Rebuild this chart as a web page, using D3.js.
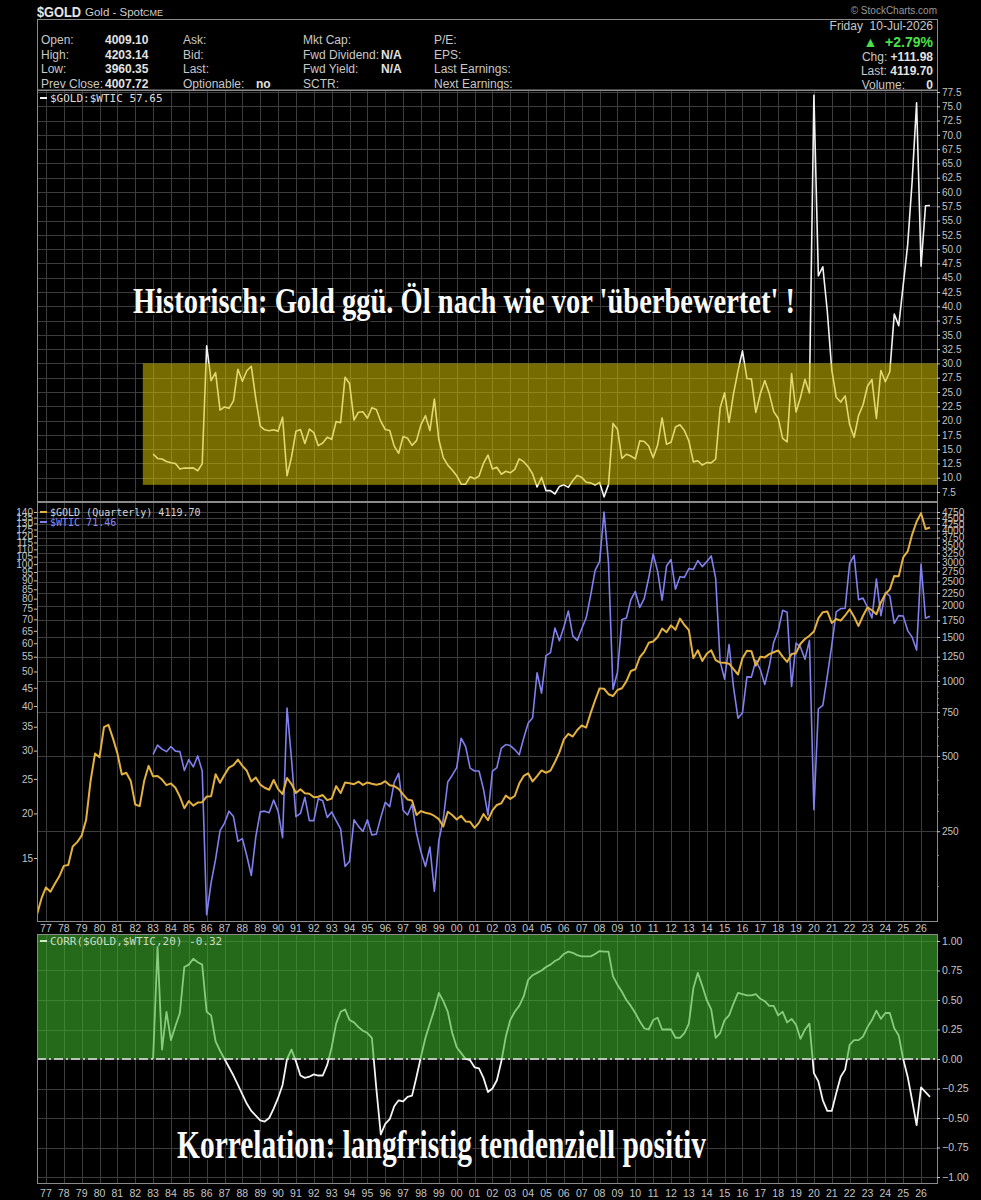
<!DOCTYPE html>
<html><head><meta charset="utf-8">
<script src="https://cdn.jsdelivr.net/npm/d3@7"></script>
<style>body{margin:0;background:#000;}svg{display:block}</style>
</head><body>
<script>
// ---------- DATA (quarterly closes, first quarter = Q3 1976) ----------
const yearLabels = ["77","78","79","80","81","82","83","84","85","86","87","88","89","90","91","92","93","94","95","96","97","98","99","00","01","02","03","04","05","06","07","08","09","10","11","12","13","14","15","16","17","18","19","20","21","22","23","24","25","26"];
const gold = [
116.0,134.5,
148.9,143.0,154.1,164.9, 181.6,183.1,217.1,226.0, 240.1,277.5,397.3,512.0, 494.5,653.0,666.8,589.8,
513.8,422.0,428.8,397.5, 320.0,315.0,397.0,456.9, 414.8,416.0,402.5,382.4, 388.5,373.5,343.8,309.0,
330.3,316.5,325.5,326.8, 344.2,345.5,423.0,390.9, 421.0,449.4,459.5,484.1, 456.9,436.6,395.3,410.2,
384.4,373.2,366.5,401.0, 368.5,352.2,408.4,386.2, 355.7,368.4,354.9,353.2, 341.7,343.4,349.0,333.0,
337.8,378.9,355.5,391.8, 389.2,385.8,394.9,383.3, 392.0,387.1,384.0,387.0, 396.4,382.0,379.0,369.3,
351.1,334.6,332.1,290.2, 301.0,296.3,293.9,287.8, 279.5,261.0,299.0,290.3, 278.7,288.2,273.7,272.7,
258.0,270.6,293.1,276.5, 302.8,318.5,323.7,347.2, 336.8,346.0,388.0,416.3, 426.5,395.8,415.7,438.0,
428.7,437.1,473.3,517.0, 583.0,613.5,598.8,635.7, 663.0,650.5,743.0,836.5, 933.5,930.3,884.5,869.8,
919.5,934.5,995.8,1096.0, 1113.3,1244.0,1307.0,1421.0, 1439.0,1500.0,1620.0,1565.8, 1669.0,1604.0,1776.0,1675.0,
1597.0,1234.0,1327.0,1202.0, 1284.0,1327.0,1211.0,1184.0, 1183.0,1172.0,1115.0,1061.0, 1233.0,1321.0,1316.0,1151.0,
1249.0,1242.0,1280.0,1303.0, 1325.0,1252.0,1192.0,1282.0, 1292.0,1409.0,1472.0,1517.0, 1577.0,1781.0,1886.0,1898.0,
1708.0,1770.0,1743.0,1829.0, 1937.0,1807.0,1660.0,1824.0, 1969.0,1919.0,1849.0,2063.0, 2230.0,2327.0,2634.0,2625.0,
3124.0,3303.0,3858.0,4340.0, 4700.0,4060.0,4119.7
];
const wticStart = 26; // Q1 1983
const wtic = [
29.3,31.1,30.3,29.8, 30.8,29.9,29.8,26.4, 28.3,27.0,29.0,26.3, 10.4,12.8,14.9,17.9,
18.8,20.3,19.6,16.7, 17.0,15.2,13.4,17.2, 20.2,20.3,20.1,21.8, 20.3,17.1,39.5,28.4,
19.6,20.0,22.2,19.1, 19.1,22.0,21.7,19.5, 20.2,19.1,18.1,14.2, 14.7,19.2,18.4,17.8,
19.2,17.4,17.5,19.5, 21.5,20.9,24.4,25.9, 20.4,19.8,21.2,17.6, 15.6,14.2,16.1,12.1,
16.8,19.3,24.5,25.6, 26.9,32.5,30.8,26.8, 26.3,26.3,23.4,19.8, 26.3,26.9,30.5,31.2,
31.0,30.2,29.2,32.5, 35.8,37.1,49.6,43.5, 55.4,56.5,66.2,61.0, 66.6,73.9,62.9,61.1,
65.9,70.7,81.7,96.0, 101.6,140.0,100.6,44.6, 49.7,69.9,70.6,79.4, 83.8,75.6,80.0,91.4,
106.7,95.4,79.2,98.8, 103.0,85.0,92.2,91.8, 97.2,96.6,102.3,98.4, 101.6,105.4,91.2,53.3,
47.6,59.5,45.1,37.0, 38.3,48.3,48.2,53.7, 50.6,46.0,51.7,60.4, 64.9,74.2,73.3,45.4,
60.1,58.5,54.1,61.1, 20.5,39.3,40.2,48.5, 59.2,73.5,75.0,75.2, 100.3,105.8,79.5,80.3,
75.7,70.6,90.8,71.7, 83.2,81.5,68.2,71.7, 71.5,65.1,62.4,57.4, 100.0,70.5,71.46
];
const corr = [
0.00,0.95,0.08,0.40,0.16,0.28,0.39,0.78,0.80,0.85,0.82,0.80,0.40,0.37,0.15,0.07,
0.00,-0.07,-0.14,-0.22,-0.30,-0.38,-0.44,-0.48,-0.52,-0.53,-0.50,-0.42,-0.33,-0.22,0.00,0.08,
-0.02,-0.14,-0.16,-0.15,-0.13,-0.14,-0.14,-0.05,0.10,0.30,0.40,0.42,0.33,0.31,0.27,0.24,
0.22,0.18,-0.25,-0.64,-0.55,-0.51,-0.40,-0.35,-0.36,-0.32,-0.31,-0.15,0.02,0.18,0.30,0.42,
0.56,0.49,0.40,0.22,0.10,0.05,0.00,-0.01,-0.07,-0.08,-0.16,-0.28,-0.25,-0.18,-0.02,0.19,
0.33,0.40,0.45,0.53,0.67,0.71,0.73,0.75,0.78,0.80,0.83,0.85,0.89,0.91,0.90,0.88,
0.87,0.87,0.87,0.89,0.915,0.91,0.91,0.70,0.63,0.57,0.50,0.45,0.39,0.32,0.26,0.25,
0.33,0.35,0.25,0.25,0.25,0.18,0.18,0.22,0.30,0.60,0.73,0.62,0.50,0.42,0.18,0.22,
0.33,0.37,0.47,0.56,0.55,0.54,0.54,0.55,0.51,0.49,0.45,0.45,0.37,0.40,0.31,0.34,
0.29,0.17,0.25,0.30,-0.12,-0.19,-0.35,-0.44,-0.44,-0.29,-0.15,-0.09,0.12,0.16,0.16,0.19,
0.27,0.33,0.41,0.34,0.39,0.39,0.26,0.20,0.00,-0.15,-0.35,-0.56,-0.24,-0.28,-0.32
];
const ratioTicks = [77.5,75,72.5,70,67.5,65,62.5,60,57.5,55,52.5,50,47.5,45,42.5,40,37.5,35,32.5,30,27.5,25,22.5,20,17.5,15,12.5,10,7.5];
const goldTicks = [4750,4500,4250,4000,3750,3500,3250,3000,2750,2500,2250,2000,1750,1500,1250,1000,750,500,250];
const wticTicks = [140,135,130,125,120,115,110,105,100,95,90,85,80,75,70,65,60,55,50,45,40,35,30,25,20,15];
const corrTicks = [1,0.75,0.5,0.25,0,-0.25,-0.5,-0.75,-1];
const ratioBand = [30, 8.75];
const bandStart = 23.7;

// ---------- LAYOUT ----------
const W = 981, H = 1200, X0 = 37, X1 = 937;
const P1 = {t:90, b:501}, P2 = {t:502, b:921}, P3 = {t:934, b:1183};
const gridC = "#3d3d3d", borderC = "#8a8a8a", tickC = "#c4c4c4";
const axisFont = "'Liberation Sans', Arial, sans-serif";
const monoFont = "'DejaVu Sans Mono', monospace";

const svg = d3.select("body").append("svg").attr("width", W).attr("height", H).style("background", "#000");
const x = d3.scaleLinear().domain([0, 201.57]).range([X0, X1]);
const yR = d3.scaleLinear().domain([5.925, 77.85]).range([P1.b, P1.t]);
const yG = d3.scaleLog().domain([109.2, 5209]).range([P2.b, P2.t]);
const yW = d3.scaleLog().domain([9.99, 149.3]).range([P2.b, P2.t]);
const yC = d3.scaleLinear().domain([-1.0508, 1.0593]).range([P3.b, P3.t]);
const yearIdx = yearLabels.map((d, k) => 2 + 4 * k);

const ratioData = wtic.map((w, j) => ({i: j + wticStart, v: gold[j + wticStart] / w}));
const goldData = gold.map((v, i) => ({i, v}));
const wticData = wtic.map((v, j) => ({i: j + wticStart, v}));
const corrData = corr.map((v, j) => ({i: j + wticStart, v}));

const defs = svg.append("defs");
[["c1",P1],["c2",P2],["c3",P3]].forEach(([id,p]) => {
  defs.append("clipPath").attr("id", id).append("rect").attr("x", X0).attr("y", p.t).attr("width", X1 - X0).attr("height", p.b - p.t);
});

function grid(p, yvals, ys) {
  const g = svg.append("g");
  g.selectAll(".h").data(yvals).join("line").attr("x1", X0).attr("x2", X1)
    .attr("y1", d => Math.round(ys(d)) + 0.5).attr("y2", d => Math.round(ys(d)) + 0.5)
    .attr("stroke", gridC).attr("stroke-width", 1);
  g.selectAll(".v").data(yearIdx).join("line").attr("y1", p.t).attr("y2", p.b)
    .attr("x1", d => Math.round(x(d)) + 0.5).attr("x2", d => Math.round(x(d)) + 0.5)
    .attr("stroke", gridC).attr("stroke-width", 1);
}
function border(p) {
  svg.append("rect").attr("x", X0 + 0.5).attr("y", p.t + 0.5).attr("width", X1 - X0).attr("height", p.b - p.t)
    .attr("fill", "none").attr("stroke", borderC).attr("stroke-width", 1);
}
function rightAxis(ys, vals, fmt, fs) {
  const ax = d3.axisRight(ys).tickValues(vals).tickFormat(fmt).tickSize(3).tickPadding(2);
  const g = svg.append("g").attr("transform", `translate(${X1},0)`).call(ax);
  g.select(".domain").remove();
  g.selectAll("line").attr("stroke", tickC);
  g.selectAll("text").attr("fill", tickC).style("font-family", axisFont).style("font-size", fs + "px");
  return g;
}

// ---------- HEADER ----------
svg.append("text").attr("x", 37).attr("y", 17).text("$GOLD").attr("fill", "#e6e6e6")
  .attr("textLength", 44).attr("lengthAdjust", "spacingAndGlyphs")
  .style("font-family", axisFont).style("font-size", "15px").style("font-weight", "bold");
svg.append("text").attr("x", 85).attr("y", 16).text("Gold - Spot").attr("fill", "#d0d0d0")
  .style("font-family", axisFont).style("font-size", "11.5px");
svg.append("text").attr("x", 143).attr("y", 16).text("CME").attr("fill", "#d0d0d0")
  .style("font-family", axisFont).style("font-size", "9px");
svg.append("text").attr("x", 937).attr("y", 14).attr("text-anchor", "end").text("© StockCharts.com").attr("fill", "#9a9a9a")
  .style("font-family", axisFont).style("font-size", "10px");
svg.append("rect").attr("x", X0 + 0.5).attr("y", 19.5).attr("width", X1 - X0).attr("height", P1.t - 19.5)
  .attr("fill", "none").attr("stroke", borderC);

const hdrRows = [44, 59, 73, 88];
const hdrCols = [
  {x: 41, labels: ["Open:", "High:", "Low:", "Prev Close:"], vx: 105, vals: ["4009.10", "4203.14", "3960.35", "4007.72"]},
  {x: 183, labels: ["Ask:", "Bid:", "Last:", "Optionable:"], vx: 256, vals: ["", "", "", "no"]},
  {x: 303, labels: ["Mkt Cap:", "Fwd Dividend:", "Fwd Yield:", "SCTR:"], vx: 381, vals: ["", "N/A", "N/A", ""]},
  {x: 434, labels: ["P/E:", "EPS:", "Last Earnings:", "Next Earnings:"], vx: 0, vals: ["", "", "", ""]}
];
hdrCols.forEach(c => {
  c.labels.forEach((l, r) => {
    svg.append("text").attr("x", c.x).attr("y", hdrRows[r]).text(l).attr("fill", "#c8c8c8")
      .style("font-family", axisFont).style("font-size", "12px");
    if (c.vals[r]) svg.append("text").attr("x", c.vx).attr("y", hdrRows[r]).text(c.vals[r]).attr("fill", "#e2e2e2")
      .style("font-family", axisFont).style("font-size", "12px").style("font-weight", "bold");
  });
});
const rt = svg.append("g").style("font-family", axisFont);
rt.append("text").attr("x", 933).attr("y", 30).attr("text-anchor", "end").text("Friday  10-Jul-2026").attr("fill", "#c8c8c8").style("font-size", "12px").style("white-space", "pre");
rt.append("text").attr("x", 933).attr("y", 47).attr("text-anchor", "end").text("▲  +2.79%").attr("fill", "#4be04b").style("font-size", "14px").style("font-weight", "bold").style("white-space", "pre");
const r3 = rt.append("text").attr("x", 933).attr("y", 61).attr("text-anchor", "end").attr("fill", "#c8c8c8").style("font-size", "12px");
r3.append("tspan").text("Chg: "); r3.append("tspan").text("+111.98").style("font-weight", "bold").attr("fill", "#e2e2e2");
const r4 = rt.append("text").attr("x", 933).attr("y", 75).attr("text-anchor", "end").attr("fill", "#c8c8c8").style("font-size", "12px");
r4.append("tspan").text("Last: "); r4.append("tspan").text("4119.70").style("font-weight", "bold").attr("fill", "#e2e2e2");
rt.append("text").attr("x", 905).attr("y", 89).attr("text-anchor", "end").text("Volume:").attr("fill", "#c8c8c8").style("font-size", "12px");
rt.append("text").attr("x", 933).attr("y", 89).attr("text-anchor", "end").text("0").attr("fill", "#e2e2e2").style("font-size", "12px").style("font-weight", "bold");

// ---------- PANEL 1: ratio ----------
grid(P1, ratioTicks, yR);
svg.append("path").datum(ratioData).attr("clip-path", "url(#c1)")
  .attr("d", d3.line().x(d => x(d.i)).y(d => yR(d.v)))
  .attr("fill", "none").attr("stroke", "#f2f2f2").attr("stroke-width", 1.6).attr("stroke-linejoin", "round");
svg.append("rect").attr("x", x(bandStart)).attr("y", yR(ratioBand[0])).attr("width", X1 - x(bandStart))
  .attr("height", yR(ratioBand[1]) - yR(ratioBand[0])).attr("fill", "rgb(215,195,0)").attr("fill-opacity", 0.55);
border(P1);
rightAxis(yR, ratioTicks, d3.format(".1f"), 10);
svg.append("line").attr("x1", 40).attr("x2", 47).attr("y1", 98).attr("y2", 98).attr("stroke", "#f2f2f2").attr("stroke-width", 2);
svg.append("text").attr("x", 50).attr("y", 102).text("$GOLD:$WTIC 57.65").attr("fill", "#dcdcdc")
  .style("font-family", monoFont).style("font-size", "11px");

function annot(txt, x0, y0, len, fs) {
  svg.append("text").attr("x", x0 + 2).attr("y", y0 + 2).text(txt).attr("fill", "#000").attr("fill-opacity", 0.8)
    .attr("textLength", len).attr("lengthAdjust", "spacingAndGlyphs")
    .style("font-family", "'Liberation Serif', 'Times New Roman', serif").style("font-weight", "bold").style("font-size", fs + "px");
  svg.append("text").attr("x", x0).attr("y", y0).text(txt).attr("fill", "#fafafa")
    .attr("textLength", len).attr("lengthAdjust", "spacingAndGlyphs")
    .style("font-family", "'Liberation Serif', 'Times New Roman', serif").style("font-weight", "bold").style("font-size", fs + "px");
}
annot("Historisch: Gold ggü. Öl nach wie vor 'überbewertet' !", 133, 313, 662, 36);

// ---------- PANEL 2: gold & WTIC ----------
grid(P2, goldTicks, yG);
svg.append("path").datum(wticData).attr("clip-path", "url(#c2)")
  .attr("d", d3.line().x(d => x(d.i)).y(d => yW(d.v)))
  .attr("fill", "none").attr("stroke", "#8080ee").attr("stroke-width", 1.6).attr("stroke-linejoin", "round");
svg.append("path").datum(goldData).attr("clip-path", "url(#c2)")
  .attr("d", d3.line().x(d => x(d.i)).y(d => yG(d.v)))
  .attr("fill", "none").attr("stroke", "#e3b13e").attr("stroke-width", 2).attr("stroke-linejoin", "round");
border(P2);
rightAxis(yG, goldTicks, d3.format("d"), 10);
const minorG = d3.range(150, 1250, 50).filter(v => v % 250 !== 0);
svg.append("g").selectAll("line").data(minorG).join("line")
  .attr("x1", X1).attr("x2", X1 + 2).attr("y1", d => yG(d)).attr("y2", d => yG(d)).attr("stroke", "#888");
{
  const ax = d3.axisLeft(yW).tickValues(wticTicks).tickFormat(d3.format("d")).tickSize(3).tickPadding(1);
  const g = svg.append("g").attr("transform", `translate(${X0},0)`).call(ax);
  g.select(".domain").remove();
  g.selectAll("line").attr("stroke", tickC);
  g.selectAll("text").attr("fill", tickC).style("font-family", axisFont).style("font-size", "10px");
}
svg.append("line").attr("x1", 40).attr("x2", 47).attr("y1", 512).attr("y2", 512).attr("stroke", "#e3b13e").attr("stroke-width", 2);
svg.append("text").attr("x", 50).attr("y", 515.5).text("$GOLD (Quarterly) 4119.70").attr("fill", "#d4d4d4")
  .style("font-family", monoFont).style("font-size", "10px");
svg.append("line").attr("x1", 40).attr("x2", 47).attr("y1", 522).attr("y2", 522).attr("stroke", "#8080ee").attr("stroke-width", 2);
svg.append("text").attr("x", 50).attr("y", 525.5).text("$WTIC 71.46").attr("fill", "#8a8af2")
  .style("font-family", monoFont).style("font-size", "10px");

// ---------- PANEL 3: correlation ----------
grid(P3, corrTicks, yC);
svg.append("path").datum(corrData).attr("clip-path", "url(#c3)")
  .attr("d", d3.line().x(d => x(d.i)).y(d => yC(d.v)))
  .attr("fill", "none").attr("stroke", "#f4f4f4").attr("stroke-width", 1.8).attr("stroke-linejoin", "round");
svg.append("rect").attr("x", X0).attr("y", yC(1.0593)).attr("width", X1 - X0).attr("height", yC(0) - yC(1.0593))
  .attr("fill", "rgb(62,175,45)").attr("fill-opacity", 0.6);
svg.append("line").attr("x1", X0).attr("x2", X1).attr("y1", yC(0)).attr("y2", yC(0))
  .attr("stroke", "#e8e8e8").attr("stroke-width", 1.3).attr("stroke-dasharray", "9,3,2,3");
border(P3);
rightAxis(yC, corrTicks, d3.format(".2f"), 10.5);
svg.append("line").attr("x1", 40).attr("x2", 47).attr("y1", 941).attr("y2", 941).attr("stroke", "#cfe8c8").attr("stroke-width", 2);
svg.append("text").attr("x", 50).attr("y", 945).text("CORR($GOLD,$WTIC,20) -0.32").attr("fill", "#c9dcc2")
  .style("font-family", monoFont).style("font-size", "11px");
annot("Korrelation: langfristig tendenziell positiv", 177, 1158, 529, 40);

// ---------- X AXIS LABELS ----------
[928, 1193].forEach(yy => {
  svg.append("g").selectAll("text").data(yearLabels).join("text")
    .attr("x", (d, k) => x(yearIdx[k])).attr("y", yy + 4).attr("text-anchor", "middle").text(d => d)
    .attr("fill", tickC).style("font-family", axisFont).style("font-size", "10.5px");
});
</script>
</body></html>
